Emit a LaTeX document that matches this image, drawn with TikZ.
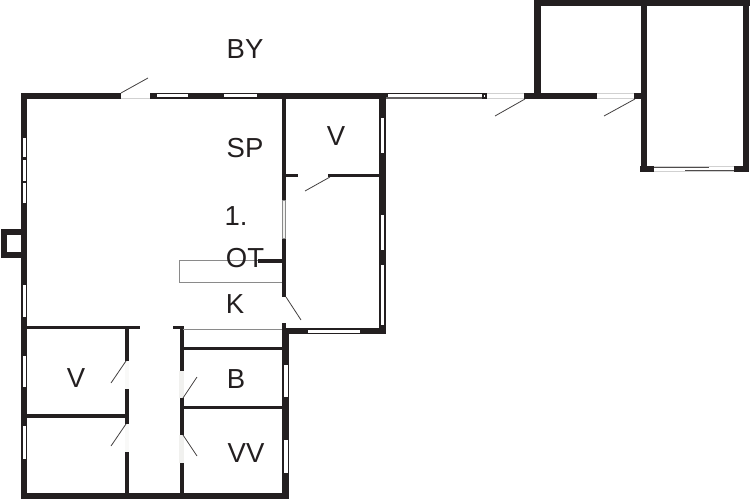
\documentclass[tikz,border=0pt]{standalone}
\usepackage{fontspec}
\setmainfont{Liberation Sans}
\definecolor{wallc}{HTML}{231F20}
\definecolor{linec}{HTML}{8A8A8A}
\definecolor{gapc}{HTML}{F1F1EF}
\definecolor{gapb}{HTML}{F9F9F8}
\tikzset{
  wall/.style={fill=wallc,draw=none},
  glass/.style={fill=white,draw=none},
  gap/.style={fill=gapc,draw=none},
  gapfaint/.style={fill=gapb,draw=none},
  leaf/.style={draw=wallc!85,line width=0.8pt},
  thin gray/.style={draw=linec,line width=0.9pt},
  pale/.style={draw=black!18,line width=0.7pt},
  room/.style={font=\fontsize{27.5}{27.5}\selectfont,text=wallc,inner sep=0pt,anchor=center}
}
\begin{document}
\begin{tikzpicture}[x=1pt,y=-1pt]
\useasboundingbox (0,0) rectangle (750,500);
\fill[white] (0,0) rectangle (750,500);
% chimney
\fill[wall] (1,229) rectangle (21,258);
\fill[glass] (7,235) rectangle (21,252);
% outer walls main
\fill[wall] (21,93) rectangle (121,99);
\fill[wall] (150,93) rectangle (388,99);
\fill[wall] (21,93) rectangle (27,499);
\fill[wall] (21,493) rectangle (289,499);
\fill[wall] (282,323) rectangle (286,330);
\fill[wall] (282,329) rectangle (289,499);
\fill[wall] (282,328) rectangle (385,334);
\fill[wall] (379,93) rectangle (386,334);
% door in top wall
\draw[pale] (121,98.7) -- (150,98.7);
\draw[leaf] (121,93) -- (148,78);
% windows top
\fill[glass] (157,94.5) rectangle (188,97.5);
\fill[glass] (224,94.5) rectangle (257,97.5);
% windows left
\fill[glass] (22.5,138) rectangle (26,157);
\fill[glass] (22.5,160) rectangle (26,181);
\fill[glass] (22.5,183) rectangle (26,203);
\fill[glass] (22.5,285) rectangle (26,317);
\fill[glass] (22.5,356) rectangle (26,387);
\fill[glass] (22.5,426) rectangle (26,459);
% lower left rooms
\fill[wall] (27,326) rectangle (140,329);
\fill[wall] (27,414) rectangle (126,418);
\fill[wall] (125,326) rectangle (128.5,361);
\fill[wall] (125,389) rectangle (128.5,424);
\fill[wall] (125,452) rectangle (128.5,494);
\fill[gapfaint] (125,361) rectangle (128.5,389);
\fill[gapfaint] (125,424) rectangle (128.5,452);
\draw[leaf] (126,361) -- (111,383);
\draw[leaf] (126,424) -- (111,446);
% corridor right wall
\fill[wall] (173,326) rectangle (184,329);
\fill[wall] (180,326) rectangle (184,371);
\fill[wall] (180,398) rectangle (184,435);
\fill[wall] (180,463) rectangle (184,494);
\fill[gap] (179,371) rectangle (184,398);
\fill[gap] (179,435) rectangle (184,463);
\draw[leaf] (183,398) -- (197,377);
\draw[leaf] (183,435) -- (197,456);
\fill[wall] (183,347) rectangle (284,350);
\fill[wall] (183,406) rectangle (284,409);
\draw[thin gray] (183,329) -- (282,329);
% windows lower right
\fill[glass] (284,365) rectangle (288,397);
\fill[glass] (284,440) rectangle (288,473);
% window kitchen bottom
\fill[glass] (308,330) rectangle (360,333);
% windows right
\fill[glass] (380.5,118) rectangle (384,153);
\fill[glass] (380.5,215) rectangle (384,250);
\fill[glass] (380.5,265) rectangle (384,325);
% inner vertical wall
\fill[wall] (282,99) rectangle (286,200);
\fill[wall] (282,238) rectangle (286,297);
\fill[gap] (282.5,200) rectangle (285.5,238);
\draw[linec,line width=0.5pt] (282.5,200) rectangle (285.5,238);
\draw[leaf] (286,297) -- (301,320);
\fill[wall] (286,174) rectangle (298,177);
\fill[wall] (328,174) rectangle (380,177);
\draw[leaf] (330,177) -- (305,191);
% counter
\draw[thin gray] (282,260.5) -- (179,260.5) -- (179,282) -- (282,282);
\fill[wall] (258,259) rectangle (282,262.5);
% link to annex
\fill[wall] (386,92.7) rectangle (487,94.2);
\fill[fill=wallc!70!white] (386,97.5) rectangle (482,98.7);
\fill[wall] (482,93) rectangle (487,99);
\fill[glass] (483.5,95) rectangle (485,97);
\draw[pale] (487,93.3) -- (524,93.3);
\draw[pale] (487,98.7) -- (524,98.7);
\draw[leaf] (525,99) -- (495,116);
\fill[wall] (524,93) rectangle (597,99);
\draw[pale] (597,93.3) -- (634,93.3);
\draw[pale] (597,98.7) -- (634,98.7);
\draw[leaf] (635,99) -- (604,116);
\fill[wall] (634,93) rectangle (642,99);
% annex
\fill[wall] (534,0) rectangle (750,6);
\fill[wall] (534,0) rectangle (541,93);
\fill[wall] (641,0) rectangle (647,172);
\fill[wall] (743,0) rectangle (749,172);
\fill[wall] (640,166) rectangle (654,172);
\fill[wall] (734,166) rectangle (749,172);
\draw[pale] (654,166.7) -- (734,166.7);
\draw[pale] (654,171.5) -- (734,171.5);
\draw[wallc!80,line width=0.7pt] (654,167) -- (709,167);
\draw[wallc!80,line width=0.7pt] (685,170) -- (734,170);
% labels
\node[room] (by) at (245,49) {BY};
\node[room] (sp) at (245,148) {SP};
\node[room] (v1) at (336,136) {V};
\node[room] (one) at (236,216) {1.};
\node[room] (ot) at (245,258) {OT};
\node[room] (k) at (235,304) {K};
\node[room] (v2) at (76,378) {V};
\node[room] (b) at (236,379) {B};
\node[room] (vv) at (246,453) {VV};
\end{tikzpicture}
\end{document}
